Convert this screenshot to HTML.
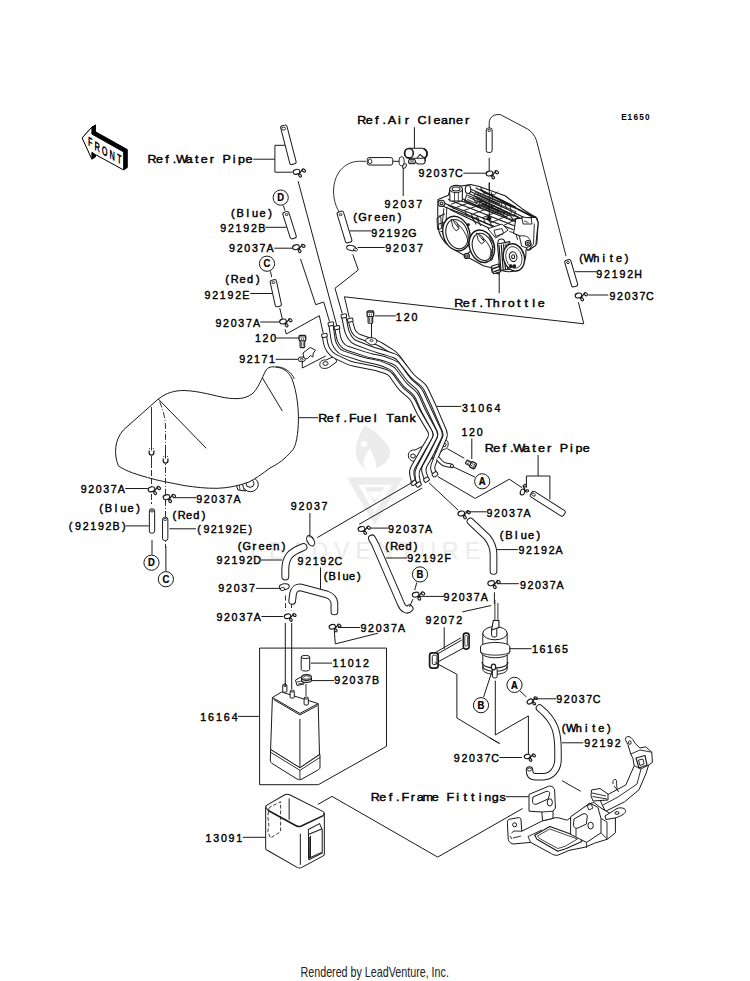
<!DOCTYPE html>
<html><head><meta charset="utf-8"><style>
html,body{margin:0;padding:0;background:#fff;overflow:hidden;}
svg{display:block;}
</style></head><body>
<svg width="750" height="981" viewBox="0 0 750 981">
<rect width="750" height="981" fill="#fff"/>
<g transform="translate(330,420) scale(0.12)" fill="#ececec" stroke="none">
<path d="M290,40 C250,120 215,180 215,255 C215,330 250,385 300,408 C265,360 280,300 335,235 C350,300 395,330 380,405 C455,375 505,325 500,262 C495,205 440,160 395,115 C350,75 300,60 290,40 Z"/>
<ellipse cx="282" cy="200" rx="28" ry="22" fill="#fff"/>
<path d="M140,480 L610,480 L372,872 Z"/>
<path d="M235,540 L515,540 L372,775 Z" fill="#fff"/>
<path d="M290,560 L455,560 L372,700 Z"/>
<path d="M310,595 L435,595 L372,665 Z" fill="#fff"/>
</g>
<text x="250" y="558.6" font-family="Liberation Sans" font-size="23" fill="#ececec" textLength="230" lengthAdjust="spacing">LEADVENTURE</text>
<polygon points="82.1,137.9 91.9,127.1 91.9,134.1 123.7,151.9 123.7,170 94.7,154.2 91.9,152.3 91.9,159.3" fill="#000" stroke="#000" stroke-width="0.8" transform="translate(0.45,-0.30)"/>
<polygon points="82.1,137.9 91.9,127.1 91.9,134.1 123.7,151.9 123.7,170 94.7,154.2 91.9,152.3 91.9,159.3" fill="#000" stroke="#000" stroke-width="0.8" transform="translate(0.90,-0.60)"/>
<polygon points="82.1,137.9 91.9,127.1 91.9,134.1 123.7,151.9 123.7,170 94.7,154.2 91.9,152.3 91.9,159.3" fill="#000" stroke="#000" stroke-width="0.8" transform="translate(1.35,-0.90)"/>
<polygon points="82.1,137.9 91.9,127.1 91.9,134.1 123.7,151.9 123.7,170 94.7,154.2 91.9,152.3 91.9,159.3" fill="#000" stroke="#000" stroke-width="0.8" transform="translate(1.80,-1.20)"/>
<polygon points="82.1,137.9 91.9,127.1 91.9,134.1 123.7,151.9 123.7,170 94.7,154.2 91.9,152.3 91.9,159.3" fill="#000" stroke="#000" stroke-width="0.8" transform="translate(2.25,-1.50)"/>
<polygon points="82.1,137.9 91.9,127.1 91.9,134.1 123.7,151.9 123.7,170 94.7,154.2 91.9,152.3 91.9,159.3" fill="#000" stroke="#000" stroke-width="0.8" transform="translate(2.70,-1.80)"/>
<polygon points="82.1,137.9 91.9,127.1 91.9,134.1 123.7,151.9 123.7,170 94.7,154.2 91.9,152.3 91.9,159.3" fill="#000" stroke="#000" stroke-width="0.8" transform="translate(3.15,-2.10)"/>
<polygon points="82.1,137.9 91.9,127.1 91.9,134.1 123.7,151.9 123.7,170 94.7,154.2 91.9,152.3 91.9,159.3" fill="#000" stroke="#000" stroke-width="0.8" transform="translate(3.60,-2.40)"/>
<polygon points="82.1,137.9 91.9,127.1 91.9,134.1 123.7,151.9 123.7,170 94.7,154.2 91.9,152.3 91.9,159.3" fill="#fff" stroke="#000" stroke-width="1"/>
<text x="0" y="0" text-anchor="middle" font-family="Liberation Sans" font-weight="bold" font-size="13" fill="#000" transform="translate(90.3,146.6) skewY(29) scale(0.58,1)">F</text>
<text x="0" y="0" text-anchor="middle" font-family="Liberation Sans" font-weight="bold" font-size="13" fill="#000" transform="translate(97.3,151.3) skewY(29) scale(0.58,1)">R</text>
<text x="0" y="0" text-anchor="middle" font-family="Liberation Sans" font-weight="bold" font-size="13" fill="#000" transform="translate(104.7,155.5) skewY(29) scale(0.58,1)">O</text>
<text x="0" y="0" text-anchor="middle" font-family="Liberation Sans" font-weight="bold" font-size="13" fill="#000" transform="translate(112.1,159.7) skewY(29) scale(0.58,1)">N</text>
<text x="0" y="0" text-anchor="middle" font-family="Liberation Sans" font-weight="bold" font-size="13" fill="#000" transform="translate(119.4,163.5) skewY(29) scale(0.58,1)">T</text>
<g transform="translate(622.00,120.30) scale(0.860,1)"><text x="2.41 9.17 15.93 22.69 29.45" y="0" text-anchor="middle" font-family="Liberation Sans" font-weight="bold" font-size="9.60" fill="#000"  >E1650</text></g>
<g transform="translate(148.50,163.00) scale(1.100,1)"><text x="3.18 9.97 16.76 23.55 30.33 37.12 43.91 50.70 57.49 64.27 71.06 77.85 84.64 91.43" y="0" text-anchor="middle" font-family="Liberation Sans" font-weight="normal" font-size="11.40" fill="#000" stroke="#000" stroke-width="0.42" >Ref.Water Pipe</text></g>
<polyline points="253.3,159.2 274.9,159.2" fill="none" stroke="#1a1a1a" stroke-width="1.00" stroke-linejoin="miter" />
<polyline points="285.0,145.3 274.9,145.3 274.9,172.2 292.4,172.2" fill="none" stroke="#1a1a1a" stroke-width="1.00" stroke-linejoin="miter" />
<rect x="-19.99" y="-3.25" width="39.97" height="6.50" rx="2" fill="#fff" stroke="#1a1a1a" stroke-width="1" transform="translate(288.40,144.80) rotate(75.47)"/>
<ellipse cx="283.6" cy="128.6" rx="2" ry="1.4" fill="#fff" stroke="#1a1a1a" stroke-width="0.9"/>
<g transform="translate(296.5,171.8) rotate(0.0) scale(1.00,1.00)" fill="#fff" stroke="#1a1a1a" stroke-width="1.15">
<ellipse cx="0" cy="0" rx="3.4" ry="2.4" transform="rotate(-12)"/>
<ellipse cx="7.3" cy="-1.3" rx="1.9" ry="1.3" transform="rotate(35 7.3 -1.3)"/>
<ellipse cx="3.6" cy="3.8" rx="1.7" ry="1.2" transform="rotate(50 3.6 3.8)"/>
<path d="M2.2,2.6 L6.4,-2.6" fill="none"/>
</g>
<polyline points="298.1,181.2 336.9,326.0" fill="none" stroke="#1a1a1a" stroke-width="1.00" stroke-linejoin="miter" />
<circle cx="280.7" cy="197.6" r="7.6" fill="#fff" stroke="#1a1a1a" stroke-width="1"/>
<text x="280.7" y="201.4" text-anchor="middle" font-family="Liberation Sans" font-weight="bold" font-size="10.5" fill="#000" stroke="#000" stroke-width="0.25" transform="translate(280.7,0) scale(0.9,1) translate(-280.7,0)">D</text>
<polyline points="283.4,205.6 285.0,210.7" fill="none" stroke="#1a1a1a" stroke-width="1.00" stroke-linejoin="miter" />
<g transform="translate(231.60,217.00) scale(1.100,1)"><text x="1.04 7.83 14.61 21.39 28.17 34.96" y="0" text-anchor="middle" font-family="Liberation Sans" font-weight="normal" font-size="10.00" fill="#000" stroke="#000" stroke-width="0.42" >(Blue)</text></g>
<g transform="translate(220.70,231.60) scale(0.920,1)"><text x="2.68 11.06 19.44 27.81 36.19 44.57" y="0" text-anchor="middle" font-family="Liberation Sans" font-weight="normal" font-size="11.60" fill="#000" stroke="#000" stroke-width="0.42" >92192B</text></g>
<polyline points="265.2,227.3 286.6,227.3" fill="none" stroke="#1a1a1a" stroke-width="1.00" stroke-linejoin="miter" />
<rect x="-13.86" y="-3.15" width="27.71" height="6.30" rx="2" fill="#fff" stroke="#1a1a1a" stroke-width="1" transform="translate(289.55,225.20) rotate(72.33)"/>
<ellipse cx="286.6" cy="214.6" rx="1.4" ry="1.0" fill="#fff" stroke="#1a1a1a" stroke-width="0.9"/>
<g transform="translate(229.60,252.40) scale(0.920,1)"><text x="2.68 10.94 19.20 27.46 35.72 43.98" y="0" text-anchor="middle" font-family="Liberation Sans" font-weight="normal" font-size="11.60" fill="#000" stroke="#000" stroke-width="0.42" >92037A</text></g>
<polyline points="274.3,248.2 293.0,248.2" fill="none" stroke="#1a1a1a" stroke-width="1.00" stroke-linejoin="miter" />
<g transform="translate(296.0,247.2) rotate(0.0) scale(1.00,1.00)" fill="#fff" stroke="#1a1a1a" stroke-width="1.15">
<ellipse cx="0" cy="0" rx="3.4" ry="2.4" transform="rotate(-12)"/>
<ellipse cx="7.3" cy="-1.3" rx="1.9" ry="1.3" transform="rotate(35 7.3 -1.3)"/>
<ellipse cx="3.6" cy="3.8" rx="1.7" ry="1.2" transform="rotate(50 3.6 3.8)"/>
<path d="M2.2,2.6 L6.4,-2.6" fill="none"/>
</g>
<polyline points="300.5,258.9 315.7,304.7 323.7,302.0 329.5,321.5" fill="none" stroke="#1a1a1a" stroke-width="1.00" stroke-linejoin="miter" />
<circle cx="267.0" cy="263.7" r="7.6" fill="#fff" stroke="#1a1a1a" stroke-width="1"/>
<text x="267.0" y="267.5" text-anchor="middle" font-family="Liberation Sans" font-weight="bold" font-size="10.5" fill="#000" stroke="#000" stroke-width="0.25" transform="translate(267.0,0) scale(0.9,1) translate(-267.0,0)">C</text>
<polyline points="270.5,271.4 271.6,277.0" fill="none" stroke="#1a1a1a" stroke-width="1.00" stroke-linejoin="miter" />
<g transform="translate(226.00,282.50) scale(1.100,1)"><text x="1.04 8.02 15.00 21.98 28.96" y="0" text-anchor="middle" font-family="Liberation Sans" font-weight="normal" font-size="10.00" fill="#000" stroke="#000" stroke-width="0.42" >(Red)</text></g>
<g transform="translate(205.00,298.50) scale(0.920,1)"><text x="2.68 11.04 19.39 27.75 36.10 44.46" y="0" text-anchor="middle" font-family="Liberation Sans" font-weight="normal" font-size="11.60" fill="#000" stroke="#000" stroke-width="0.42" >92192E</text></g>
<polyline points="250.3,293.5 272.3,293.5" fill="none" stroke="#1a1a1a" stroke-width="1.00" stroke-linejoin="miter" />
<rect x="-13.58" y="-3.15" width="27.17" height="6.30" rx="2" fill="#fff" stroke="#1a1a1a" stroke-width="1" transform="translate(275.80,293.20) rotate(77.83)"/>
<ellipse cx="273.4" cy="282.6" rx="1.4" ry="1.0" fill="#fff" stroke="#1a1a1a" stroke-width="0.9"/>
<polyline points="279.7,308.0 282.3,318.7" fill="none" stroke="#1a1a1a" stroke-width="1.00" stroke-linejoin="miter" />
<g transform="translate(216.00,326.50) scale(0.920,1)"><text x="2.68 10.94 19.20 27.46 35.72 43.98" y="0" text-anchor="middle" font-family="Liberation Sans" font-weight="normal" font-size="11.60" fill="#000" stroke="#000" stroke-width="0.42" >92037A</text></g>
<polyline points="260.3,322.0 279.0,322.0" fill="none" stroke="#1a1a1a" stroke-width="1.00" stroke-linejoin="miter" />
<g transform="translate(283.0,321.5) rotate(0.0) scale(1.00,1.00)" fill="#fff" stroke="#1a1a1a" stroke-width="1.15">
<ellipse cx="0" cy="0" rx="3.4" ry="2.4" transform="rotate(-12)"/>
<ellipse cx="7.3" cy="-1.3" rx="1.9" ry="1.3" transform="rotate(35 7.3 -1.3)"/>
<ellipse cx="3.6" cy="3.8" rx="1.7" ry="1.2" transform="rotate(50 3.6 3.8)"/>
<path d="M2.2,2.6 L6.4,-2.6" fill="none"/>
</g>
<polyline points="285.0,329.3 286.3,334.0 319.3,315.7 323.2,333.0" fill="none" stroke="#1a1a1a" stroke-width="1.00" stroke-linejoin="miter" />
<g transform="translate(255.70,342.40) scale(0.920,1)"><text x="2.34 10.65 18.97" y="0" text-anchor="middle" font-family="Liberation Sans" font-weight="normal" font-size="11.60" fill="#000" stroke="#000" stroke-width="0.42" >120</text></g>
<polyline points="276.3,338.0 299.0,338.0" fill="none" stroke="#1a1a1a" stroke-width="1.00" stroke-linejoin="miter" />
<g transform="translate(239.70,363.30) scale(0.920,1)"><text x="2.68 10.75 18.82 26.88 34.95" y="0" text-anchor="middle" font-family="Liberation Sans" font-weight="normal" font-size="11.60" fill="#000" stroke="#000" stroke-width="0.42" >92171</text></g>
<polyline points="275.7,359.3 298.3,359.3" fill="none" stroke="#1a1a1a" stroke-width="1.00" stroke-linejoin="miter" />
<g transform="translate(302.4,335.3) rotate(0.0)" stroke="#1a1a1a" stroke-width="1.1" fill="#fff">
<rect x="-2.30" y="5.20" width="4.60" height="7.10" rx="0.8"/>
<path d="M-0.9,7 V11.3 M0.9,7 V11.3" fill="none" stroke-width="0.7"/>
<rect x="-3.30" y="0" width="6.60" height="5.6" rx="1.2" stroke-width="1.3"/>
<path d="M-2.80,1.6 H2.80 M-1,2.8 V4.6 M1,2.8 V4.6" fill="none" stroke-width="0.8"/>
</g>
<path d="M303,353 L310.3,347.4 L315.5,350.3 L313.3,353 L312.8,357 L310.5,355.5 L307.5,358.5 L304,359 Z" fill="#fff" stroke="#1a1a1a" stroke-width="1.00" stroke-linejoin="round" />
<ellipse cx="301.7" cy="359.3" rx="3.6" ry="2.4" fill="#fff" stroke="#1a1a1a" stroke-width="1"/>
<ellipse cx="301.7" cy="359.3" rx="1.4" ry="0.9" fill="#fff" stroke="#1a1a1a" stroke-width="0.8"/>
<polyline points="302.3,361.5 302.3,368.0 325.7,356.0" fill="none" stroke="#1a1a1a" stroke-width="1.00" stroke-linejoin="miter" />
<g transform="translate(358.30,124.00) scale(1.100,1)"><text x="3.18 10.02 16.86 23.70 30.54 37.38 44.22 51.05 57.89 64.73 71.57 78.41 85.25 92.09 98.93" y="0" text-anchor="middle" font-family="Liberation Sans" font-weight="normal" font-size="11.40" fill="#000" stroke="#000" stroke-width="0.42" >Ref.Air Cleaner</text></g>
<polyline points="414.4,127.2 414.4,148.8" fill="none" stroke="#1a1a1a" stroke-width="1.00" stroke-linejoin="miter" />
<g stroke="#1a1a1a" stroke-width="1.1" fill="#fff">
<path d="M409.5,158.5 L418,164 L423,164 C425.5,163.5 425.5,160 425,158" fill="#fff"/>
<rect x="404.3" y="148.3" width="23" height="10" rx="5"/>
<path d="M423.5,148.8 C427.5,150 428.5,156 424.5,158" fill="none" stroke-width="1.6"/>
<ellipse cx="409" cy="153.2" rx="4.3" ry="4.7" stroke-width="1.6"/>
<path d="M417,158 L420,154.5 L425,158.5 L425,161" fill="none"/>
<rect x="408.6" y="159.3" width="6.8" height="4.4" rx="2"/>
<path d="M411,159.5 V163.5 M413,159.5 V163.5" fill="none" stroke-width="0.9"/>
</g>
<g transform="translate(419.00,177.30) scale(0.920,1)"><text x="2.68 10.81 18.94 27.06 35.19 43.32" y="0" text-anchor="middle" font-family="Liberation Sans" font-weight="normal" font-size="11.60" fill="#000" stroke="#000" stroke-width="0.42" >92037C</text></g>
<polyline points="463.3,173.2 486.0,173.2" fill="none" stroke="#1a1a1a" stroke-width="1.00" stroke-linejoin="miter" />
<g transform="translate(385.00,208.30) scale(0.920,1)"><text x="2.68 11.32 19.97 28.61 37.25" y="0" text-anchor="middle" font-family="Liberation Sans" font-weight="normal" font-size="11.60" fill="#000" stroke="#000" stroke-width="0.42" >92037</text></g>
<polyline points="403.2,168.0 403.2,196.0" fill="none" stroke="#1a1a1a" stroke-width="1.00" stroke-linejoin="miter" />
<ellipse cx="401.6" cy="161.3" rx="2.6" ry="4.6" fill="#fff" stroke="#1a1a1a" stroke-width="1"/>
<ellipse cx="404.5" cy="166" rx="1.6" ry="2.4" fill="#fff" stroke="#1a1a1a" stroke-width="0.9" transform="rotate(30 404.5 166)"/>
<polyline points="392.8,161.3 399.2,161.3" fill="none" stroke="#1a1a1a" stroke-width="1.00" stroke-linejoin="miter" />
<rect x="-12.75" y="-3.75" width="25.50" height="7.50" rx="2" fill="#fff" stroke="#1a1a1a" stroke-width="1" transform="translate(380.00,161.30) rotate(0.00)"/>
<ellipse cx="370" cy="161.3" rx="1.8" ry="2.4" fill="#fff" stroke="#1a1a1a" stroke-width="0.9"/>
<path d="M366,161.3 L358.4,161.3 C344,162 334,174 333.6,190 C333.4,198 335,205 339.2,212" fill="none" stroke="#1a1a1a" stroke-width="0.90" stroke-linejoin="round" />
<g transform="translate(354.00,221.30) scale(1.100,1)"><text x="1.04 7.77 14.50 21.23 27.95 34.68 41.41" y="0" text-anchor="middle" font-family="Liberation Sans" font-weight="normal" font-size="10.00" fill="#000" stroke="#000" stroke-width="0.42" >(Green)</text></g>
<g transform="translate(371.70,236.70) scale(0.920,1)"><text x="2.68 10.98 19.28 27.58 35.88 44.18" y="0" text-anchor="middle" font-family="Liberation Sans" font-weight="normal" font-size="11.60" fill="#000" stroke="#000" stroke-width="0.42" >92192G</text></g>
<polyline points="349.6,230.9 371.2,230.9" fill="none" stroke="#1a1a1a" stroke-width="1.00" stroke-linejoin="miter" />
<rect x="-16.10" y="-3.35" width="32.20" height="6.70" rx="2" fill="#fff" stroke="#1a1a1a" stroke-width="1" transform="translate(344.50,227.00) rotate(73.13)"/>
<ellipse cx="340.6" cy="214.6" rx="1.5" ry="1.0" fill="#fff" stroke="#1a1a1a" stroke-width="0.9"/>
<g transform="translate(385.70,251.70) scale(0.920,1)"><text x="2.68 11.30 19.91 28.53 37.14" y="0" text-anchor="middle" font-family="Liberation Sans" font-weight="normal" font-size="11.60" fill="#000" stroke="#000" stroke-width="0.42" >92037</text></g>
<polyline points="357.6,247.5 384.8,247.5" fill="none" stroke="#1a1a1a" stroke-width="1.00" stroke-linejoin="miter" />
<ellipse cx="351.2" cy="248" rx="4.6" ry="2.6" fill="#fff" stroke="#1a1a1a" stroke-width="1" transform="rotate(10 351.2 248)"/>
<ellipse cx="355.5" cy="249.5" rx="2" ry="1.4" fill="#fff" stroke="#1a1a1a" stroke-width="0.9" transform="rotate(20 355.5 249.5)"/>
<polyline points="352.8,254.4 358.3,270.0 335.0,288.3 342.2,313.5" fill="none" stroke="#1a1a1a" stroke-width="1.00" stroke-linejoin="miter" />
<path d="M489.2,128 L489.2,122.6 C489.5,117 494,114 500.4,114.6 L527.6,129 C531,131 534.5,135 536.4,140.2 L566,256" fill="none" stroke="#1a1a1a" stroke-width="0.95" stroke-linejoin="round" />
<rect x="-12.20" y="-2.95" width="24.40" height="5.90" rx="2" fill="#fff" stroke="#1a1a1a" stroke-width="1" transform="translate(489.20,140.25) rotate(90.00)"/>
<ellipse cx="489.2" cy="130.5" rx="1.4" ry="1.0" fill="#fff" stroke="#1a1a1a" stroke-width="0.9"/>
<polyline points="489.2,157.8 489.2,170.6" fill="none" stroke="#1a1a1a" stroke-width="1.00" stroke-linejoin="miter" />
<g transform="translate(489.5,173.5) rotate(0.0) scale(1.00,1.00)" fill="#fff" stroke="#1a1a1a" stroke-width="1.15">
<ellipse cx="0" cy="0" rx="3.4" ry="2.4" transform="rotate(-12)"/>
<ellipse cx="7.3" cy="-1.3" rx="1.9" ry="1.3" transform="rotate(35 7.3 -1.3)"/>
<ellipse cx="3.6" cy="3.8" rx="1.7" ry="1.2" transform="rotate(50 3.6 3.8)"/>
<path d="M2.2,2.6 L6.4,-2.6" fill="none"/>
</g>
<polyline points="489.2,182.6 489.2,221.0" fill="none" stroke="#1a1a1a" stroke-width="1.00" stroke-linejoin="miter" />
<g transform="translate(580.00,261.70) scale(1.100,1)"><text x="1.04 7.92 14.80 21.68 28.56 35.44 42.32" y="0" text-anchor="middle" font-family="Liberation Sans" font-weight="normal" font-size="10.00" fill="#000" stroke="#000" stroke-width="0.42" >(White)</text></g>
<g transform="translate(596.70,277.70) scale(0.920,1)"><text x="2.68 11.13 19.57 28.02 36.46 44.91" y="0" text-anchor="middle" font-family="Liberation Sans" font-weight="normal" font-size="11.60" fill="#000" stroke="#000" stroke-width="0.42" >92192H</text></g>
<polyline points="575.0,271.7 596.7,271.7" fill="none" stroke="#1a1a1a" stroke-width="1.00" stroke-linejoin="miter" />
<rect x="-13.83" y="-3.15" width="27.66" height="6.30" rx="2" fill="#fff" stroke="#1a1a1a" stroke-width="1" transform="translate(571.20,273.25) rotate(73.69)"/>
<ellipse cx="568" cy="262.6" rx="1.4" ry="1.0" fill="#fff" stroke="#1a1a1a" stroke-width="0.9"/>
<g transform="translate(610.00,300.00) scale(0.920,1)"><text x="2.68 10.81 18.94 27.06 35.19 43.32" y="0" text-anchor="middle" font-family="Liberation Sans" font-weight="normal" font-size="11.60" fill="#000" stroke="#000" stroke-width="0.42" >92037C</text></g>
<polyline points="588.3,295.0 608.3,295.0" fill="none" stroke="#1a1a1a" stroke-width="1.00" stroke-linejoin="miter" />
<g transform="translate(578.5,295.5) rotate(0.0) scale(1.00,1.00)" fill="#fff" stroke="#1a1a1a" stroke-width="1.15">
<ellipse cx="0" cy="0" rx="3.4" ry="2.4" transform="rotate(-12)"/>
<ellipse cx="7.3" cy="-1.3" rx="1.9" ry="1.3" transform="rotate(35 7.3 -1.3)"/>
<ellipse cx="3.6" cy="3.8" rx="1.7" ry="1.2" transform="rotate(50 3.6 3.8)"/>
<path d="M2.2,2.6 L6.4,-2.6" fill="none"/>
</g>
<polyline points="578.4,302.2 583.8,323.8 344.4,296.8 349.3,317.5" fill="none" stroke="#1a1a1a" stroke-width="1.00" stroke-linejoin="miter" />
<g transform="translate(455.30,306.50) scale(1.100,1)"><text x="3.18 10.00 16.81 23.63 30.44 37.26 44.08 50.89 57.71 64.52 71.34 78.15" y="0" text-anchor="middle" font-family="Liberation Sans" font-weight="normal" font-size="11.40" fill="#000" stroke="#000" stroke-width="0.42" >Ref.Throttle</text></g>
<polyline points="499.2,271.6 499.2,293.2" fill="none" stroke="#1a1a1a" stroke-width="1.00" stroke-linejoin="miter" />
<g transform="translate(396.60,320.90) scale(0.920,1)"><text x="2.34 10.93 19.51" y="0" text-anchor="middle" font-family="Liberation Sans" font-weight="normal" font-size="11.60" fill="#000" stroke="#000" stroke-width="0.42" >120</text></g>
<polyline points="375.0,315.9 395.9,315.9" fill="none" stroke="#1a1a1a" stroke-width="1.00" stroke-linejoin="miter" />
<g transform="translate(370.4,311.0) rotate(0.0)" stroke="#1a1a1a" stroke-width="1.1" fill="#fff">
<rect x="-2.30" y="5.20" width="4.60" height="7.10" rx="0.8"/>
<path d="M-0.9,7 V11.3 M0.9,7 V11.3" fill="none" stroke-width="0.7"/>
<rect x="-3.30" y="0" width="6.60" height="5.6" rx="1.2" stroke-width="1.3"/>
<path d="M-2.80,1.6 H2.80 M-1,2.8 V4.6 M1,2.8 V4.6" fill="none" stroke-width="0.8"/>
</g>
<polyline points="371.5,323.0 371.5,338.0" fill="none" stroke="#1a1a1a" stroke-width="1.00" stroke-linejoin="miter" />
<g transform="translate(430,178) scale(0.15337)" stroke="#1a1a1a" stroke-width="7" fill="#fff" stroke-linejoin="round" stroke-linecap="round">
<path d="M52,140 L120,112 L135,60 L210,50 L232,48 L265,42 L320,55 L490,116 L600,200 L697,262 L705,290 L697,426 L650,470 L625,470 C630,520 610,590 560,605 C520,615 480,610 460,600 L450,625 L405,615 L400,585 L348,572 L226,505 L171,475 L104,426 C80,400 60,370 55,330 L50,230 Z"/>
<path d="M55,150 L540,335 M60,175 L430,320 M120,140 L545,310 M205,150 L600,300" fill="none"/>
<path d="M270,75 L690,255 M300,65 L700,270" fill="none"/>
<path d="M240,110 L560,245 L540,280 L225,150 Z" fill="#fff"/>
<path d="M250,125 L545,255 M245,140 L535,268" fill="none" stroke-width="6"/>
<path d="M300,95 L470,165 L460,185 L290,115 Z M330,160 L450,210 L440,230 L320,180 Z" fill="#fff" stroke-width="6"/>
<path d="M340,170 L440,215 M310,108 L455,170" fill="none" stroke-width="9"/>
<path d="M470,180 L560,220 L545,250 L460,210 Z M490,220 L580,255 L565,285 L480,250 Z" fill="#fff" stroke-width="6"/>
<path d="M230,220 L240,250 M270,235 L280,265 M310,250 L320,280 M350,265 L360,295 M390,280 L400,310" fill="none" stroke-width="6"/>
<path d="M380,240 L400,260 L390,280 L370,265 Z" fill="#1a1a1a" stroke-width="4"/>
<path d="M140,170 L200,150 M150,200 L260,160 M210,215 L330,175 M280,235 L400,190 M340,260 L450,215 M400,290 L520,240 M460,320 L560,270" fill="none" stroke-width="6"/>
<path d="M330,60 L350,100 L420,110 L440,90 M400,95 L410,140 M480,150 L500,200 M520,170 L530,225" fill="none" stroke-width="6"/>
<path d="M90,200 L80,300 L100,420 M110,190 L105,280" fill="none" stroke-width="6"/>
<path d="M560,330 L600,345 L590,380 M520,350 L560,360 L570,400" fill="none" stroke-width="6"/>
<path d="M120,180 L470,345 M130,205 L455,360 M250,100 L640,290 M265,88 L650,275 M330,75 L560,190 M360,95 L600,215 M200,130 L330,190" fill="none" stroke-width="7"/>
<path d="M280,130 L300,160 L340,150 M360,160 L380,190 L420,180 M440,200 L460,230 L500,220 M520,240 L540,270 L580,260" fill="none" stroke-width="7"/>
<path d="M600,330 L650,350 L640,400" fill="none" stroke-width="7"/>
<path d="M60,250 L95,235 M60,300 L90,290 M70,350 L88,345 M270,250 L300,300 M300,255 L330,310 M240,500 L270,470 M410,330 L430,380 M440,320 L470,370" fill="none" stroke-width="7"/>
<path d="M300,130 L520,230 M310,150 L515,245 M330,175 L500,255" fill="none" stroke-width="8"/>
<path d="M128,75 L130,150 L210,150 L212,75 Z"/>
<ellipse cx="170" cy="72" rx="42" ry="24"/>
<ellipse cx="170" cy="72" rx="26" ry="13"/>
<path d="M160,95 L160,150 M185,95 L185,150" fill="none" stroke-width="5"/>
<ellipse cx="248" cy="75" rx="18" ry="26"/>
<ellipse cx="75" cy="165" rx="22" ry="20"/>
<ellipse cx="75" cy="165" rx="10" ry="9"/>
<path d="M48,260 L70,250 L75,330 L52,335 Z" fill="none" stroke-width="6"/>
<ellipse cx="172" cy="362" rx="86" ry="115" transform="rotate(-18 172 362)" stroke-width="9"/>
<ellipse cx="176" cy="366" rx="70" ry="98" transform="rotate(-18 176 366)"/>
<path d="M140,270 L175,290 L190,330 L170,345 L150,320 Z" fill="#fff" stroke-width="6"/>
<path d="M155,285 L185,325 M180,300 C230,340 250,400 255,450" fill="none" stroke-width="6"/>
<ellipse cx="338" cy="445" rx="80" ry="108" transform="rotate(-18 338 445)" stroke-width="9"/>
<ellipse cx="342" cy="449" rx="64" ry="91" transform="rotate(-18 342 449)"/>
<path d="M305,360 L340,380 L355,415 L335,430 L315,405 Z" fill="#fff" stroke-width="6"/>
<path d="M320,375 L350,410 M345,390 C390,430 405,480 408,530" fill="none" stroke-width="6"/>
<circle cx="240" cy="508" r="17"/>
<circle cx="240" cy="508" r="8"/>
<circle cx="250" cy="305" r="6" fill="#1a1a1a"/>
<path d="M380,330 L470,300 L510,340 L430,390 Z" fill="#fff" stroke-width="6"/>
<path d="M420,340 L470,330 L480,360 L430,380 Z" fill="#fff" stroke-width="6"/>
<path d="M385,380 L420,440 L400,470 L390,520 L400,540" fill="none" stroke-width="6"/>
<circle cx="465" cy="420" r="22"/>
<path d="M560,265 L690,255 L705,290 L690,440 L640,470 L600,430 L590,380 L545,360 Z" fill="#fff"/>
<path d="M600,255 L660,260 L665,300 L610,300 Z" fill="#fff" stroke-width="6"/>
<path d="M615,280 L640,290" fill="none" stroke-width="5"/>
<path d="M680,300 L675,430 L650,460" fill="none" stroke-width="6"/>
<path d="M585,380 C610,370 640,380 650,400 L660,440 L630,455 L600,445 Z" fill="#fff" stroke-width="6"/>
<circle cx="640" cy="425" r="18"/>
<circle cx="640" cy="425" r="8"/>
<path d="M440,430 L520,415 L535,590 L455,605 Z" fill="#fff"/>
<path d="M450,440 L462,600 M465,437 L477,598 M480,434 L492,596 M495,431 L507,594 M510,428 L522,592" fill="none" stroke-width="8"/>
<ellipse cx="547" cy="518" rx="68" ry="90" transform="rotate(-15 547 518)" stroke-width="9"/>
<ellipse cx="547" cy="518" rx="52" ry="72" transform="rotate(-15 547 518)" stroke-width="5"/>
<ellipse cx="542" cy="513" rx="24" ry="32" transform="rotate(-15 542 513)"/>
<ellipse cx="542" cy="513" rx="10" ry="13"/>
<circle cx="527" cy="575" r="9" fill="#1a1a1a"/><circle cx="550" cy="575" r="9" fill="#1a1a1a"/>
<path d="M400,575 L445,560 L462,610 L415,625 Z"/>
<path d="M412,590 L450,578 M420,610 L455,598" fill="none" stroke-width="9"/>
</g>
<polyline points="489.3,182.6 489.3,222.0" fill="none" stroke="#1a1a1a" stroke-width="1.00" stroke-linejoin="miter" />
<path d="M320,366 C319,362 322,359.5 326,360 L334,356.5 L337,361.5 L331,366 C328,369 321,369.5 320,366 Z" fill="#fff" stroke="#1a1a1a" stroke-width="1"/>
<ellipse cx="325.5" cy="363.5" rx="2.6" ry="1.9" fill="#fff" stroke="#1a1a1a" stroke-width="1"/>
<path d="M408.5,457 C407.5,452 411,449.5 415,450 L421,447 L440,441.5 C441.5,438.5 447,438.5 448,442.5 C449,447 446,449.5 443,449.5 L441,452 C437,456 430,460 421,461.5 C415,462.5 409.5,461 408.5,457 Z" fill="#fff" stroke="#1a1a1a" stroke-width="1"/>
<ellipse cx="413" cy="456" rx="2.4" ry="2" fill="#fff" stroke="#1a1a1a" stroke-width="1"/>
<ellipse cx="444" cy="444.8" rx="2.2" ry="1.8" fill="#fff" stroke="#1a1a1a" stroke-width="1"/>
<path d="M421,461.5 C428,461 436,458 441,452 M436,450 L436,462" fill="none" stroke="#1a1a1a" stroke-width="0.9"/>
<path d="M350.20,320.50 L352.66,329.10 Q353.40,331.70 355.33,333.59 L355.76,334.01 Q357.70,335.90 360.25,336.80 L375.23,342.07 Q379.00,343.40 382.40,345.51 L392.20,351.59 Q395.60,353.70 397.92,356.96 L412.70,377.70" fill="none" stroke="#1a1a1a" stroke-width="5.20" stroke-linecap="butt" stroke-linejoin="round"/>
<path d="M350.20,320.50 L352.66,329.10 Q353.40,331.70 355.33,333.59 L355.76,334.01 Q357.70,335.90 360.25,336.80 L375.23,342.07 Q379.00,343.40 382.40,345.51 L392.20,351.59 Q395.60,353.70 397.92,356.96 L412.70,377.70" fill="none" stroke="#fff" stroke-width="3.20" stroke-linecap="butt" stroke-linejoin="round"/>
<path d="M343.80,316.50 L346.22,328.78 Q347.00,332.70 349.10,336.11 L350.20,337.89 Q352.30,341.30 356.04,342.72 L370.96,348.38 Q374.70,349.80 378.55,350.87 L384.15,352.43 Q388.00,353.50 391.75,354.88 L393.75,355.62 Q397.50,357.00 399.94,360.17 L410.06,373.33 Q412.50,376.50 415.64,378.98 L421.36,383.52 Q424.50,386.00 426.21,389.62 L431.29,400.38 Q433.00,404.00 434.57,407.68 L444.43,430.82 Q446.00,434.50 444.39,438.16 L438.61,451.34 Q437.00,455.00 435.56,458.73 L433.13,465.07 Q432.00,468.00 433.35,470.83 L435.00,474.30" fill="none" stroke="#1a1a1a" stroke-width="5.20" stroke-linecap="butt" stroke-linejoin="round"/>
<path d="M343.80,316.50 L346.22,328.78 Q347.00,332.70 349.10,336.11 L350.20,337.89 Q352.30,341.30 356.04,342.72 L370.96,348.38 Q374.70,349.80 378.55,350.87 L384.15,352.43 Q388.00,353.50 391.75,354.88 L393.75,355.62 Q397.50,357.00 399.94,360.17 L410.06,373.33 Q412.50,376.50 415.64,378.98 L421.36,383.52 Q424.50,386.00 426.21,389.62 L431.29,400.38 Q433.00,404.00 434.57,407.68 L444.43,430.82 Q446.00,434.50 444.39,438.16 L438.61,451.34 Q437.00,455.00 435.56,458.73 L433.13,465.07 Q432.00,468.00 433.35,470.83 L435.00,474.30" fill="none" stroke="#fff" stroke-width="3.20" stroke-linecap="butt" stroke-linejoin="round"/>
<path d="M336.90,328.00 L338.36,336.47 Q339.00,340.20 341.16,343.31 L341.64,344.00 Q343.80,347.10 347.40,348.27 L364.50,353.86 Q368.30,355.10 372.21,355.95 L380.09,357.65 Q384.00,358.50 387.73,359.94 L393.27,362.06 Q397.00,363.50 399.35,366.73 L406.65,376.77 Q409.00,380.00 412.03,382.61 L416.97,386.89 Q420.00,389.50 421.66,393.14 L426.34,403.36 Q428.00,407.00 429.71,410.62 L439.29,430.88 Q441.00,434.50 439.24,438.09 L432.26,452.41 Q430.50,456.00 428.50,459.46 L425.00,465.54 Q423.00,469.00 424.26,472.79 L426.50,479.50" fill="none" stroke="#1a1a1a" stroke-width="5.20" stroke-linecap="butt" stroke-linejoin="round"/>
<path d="M336.90,328.00 L338.36,336.47 Q339.00,340.20 341.16,343.31 L341.64,344.00 Q343.80,347.10 347.40,348.27 L364.50,353.86 Q368.30,355.10 372.21,355.95 L380.09,357.65 Q384.00,358.50 387.73,359.94 L393.27,362.06 Q397.00,363.50 399.35,366.73 L406.65,376.77 Q409.00,380.00 412.03,382.61 L416.97,386.89 Q420.00,389.50 421.66,393.14 L426.34,403.36 Q428.00,407.00 429.71,410.62 L439.29,430.88 Q441.00,434.50 439.24,438.09 L432.26,452.41 Q430.50,456.00 428.50,459.46 L425.00,465.54 Q423.00,469.00 424.26,472.79 L426.50,479.50" fill="none" stroke="#fff" stroke-width="3.20" stroke-linecap="butt" stroke-linejoin="round"/>
<path d="M330.80,324.00 L333.11,339.44 Q333.70,343.40 335.95,346.70 L337.25,348.60 Q339.50,351.90 343.31,353.12 L359.19,358.18 Q363.00,359.40 366.91,360.23 L376.09,362.17 Q380.00,363.00 383.68,364.56 L389.32,366.94 Q393.00,368.50 395.35,371.73 L402.65,381.77 Q405.00,385.00 408.10,387.53 L412.90,391.47 Q416.00,394.00 417.60,397.66 L421.40,406.34 Q423.00,410.00 424.91,413.52 L434.39,430.98 Q436.30,434.50 434.44,438.04 L427.36,451.46 Q425.50,455.00 423.63,458.54 L418.37,468.46 Q416.50,472.00 417.16,475.95 L418.50,484.00" fill="none" stroke="#1a1a1a" stroke-width="5.20" stroke-linecap="butt" stroke-linejoin="round"/>
<path d="M330.80,324.00 L333.11,339.44 Q333.70,343.40 335.95,346.70 L337.25,348.60 Q339.50,351.90 343.31,353.12 L359.19,358.18 Q363.00,359.40 366.91,360.23 L376.09,362.17 Q380.00,363.00 383.68,364.56 L389.32,366.94 Q393.00,368.50 395.35,371.73 L402.65,381.77 Q405.00,385.00 408.10,387.53 L412.90,391.47 Q416.00,394.00 417.60,397.66 L421.40,406.34 Q423.00,410.00 424.91,413.52 L434.39,430.98 Q436.30,434.50 434.44,438.04 L427.36,451.46 Q425.50,455.00 423.63,458.54 L418.37,468.46 Q416.50,472.00 417.16,475.95 L418.50,484.00" fill="none" stroke="#fff" stroke-width="3.20" stroke-linecap="butt" stroke-linejoin="round"/>
<path d="M324.40,336.00 L325.53,342.66 Q326.20,346.60 328.43,349.92 L329.27,351.18 Q331.50,354.50 335.10,356.23 L346.60,361.77 Q350.20,363.50 354.13,364.26 L372.07,367.74 Q376.00,368.50 379.81,369.71 L385.69,371.59 Q389.50,372.80 391.82,376.06 L398.68,385.74 Q401.00,389.00 404.10,391.53 L408.90,395.47 Q412.00,398.00 413.68,401.63 L416.82,408.37 Q418.50,412.00 420.54,415.44 L429.76,431.06 Q431.80,434.50 429.80,437.97 L422.00,451.53 Q420.00,455.00 418.04,458.49 L412.96,467.51 Q411.00,471.00 411.89,474.90 L413.50,482.00" fill="none" stroke="#1a1a1a" stroke-width="5.20" stroke-linecap="butt" stroke-linejoin="round"/>
<path d="M324.40,336.00 L325.53,342.66 Q326.20,346.60 328.43,349.92 L329.27,351.18 Q331.50,354.50 335.10,356.23 L346.60,361.77 Q350.20,363.50 354.13,364.26 L372.07,367.74 Q376.00,368.50 379.81,369.71 L385.69,371.59 Q389.50,372.80 391.82,376.06 L398.68,385.74 Q401.00,389.00 404.10,391.53 L408.90,395.47 Q412.00,398.00 413.68,401.63 L416.82,408.37 Q418.50,412.00 420.54,415.44 L429.76,431.06 Q431.80,434.50 429.80,437.97 L422.00,451.53 Q420.00,455.00 418.04,458.49 L412.96,467.51 Q411.00,471.00 411.89,474.90 L413.50,482.00" fill="none" stroke="#fff" stroke-width="3.20" stroke-linecap="butt" stroke-linejoin="round"/>
<rect x="321.7" y="333.7" width="5.4" height="3.6" rx="1" fill="#fff" stroke="#1a1a1a" stroke-width="1" transform="rotate(-12 324.4 335.2)"/>
<rect x="328.1" y="322.2" width="5.4" height="3.6" rx="1" fill="#fff" stroke="#1a1a1a" stroke-width="1" transform="rotate(-12 330.8 323.7)"/>
<rect x="334.2" y="325.9" width="5.4" height="3.6" rx="1" fill="#fff" stroke="#1a1a1a" stroke-width="1" transform="rotate(-12 336.9 327.4)"/>
<rect x="341.1" y="314.2" width="5.4" height="3.6" rx="1" fill="#fff" stroke="#1a1a1a" stroke-width="1" transform="rotate(-12 343.8 315.7)"/>
<rect x="347.5" y="318.4" width="5.4" height="3.6" rx="1" fill="#fff" stroke="#1a1a1a" stroke-width="1" transform="rotate(-12 350.2 319.9)"/>
<rect x="411.0" y="480.9" width="5.4" height="4" rx="1.2" fill="#fff" stroke="#1a1a1a" stroke-width="1" transform="rotate(-35 413.7 482.9)"/>
<rect x="415.8" y="482.5" width="5.4" height="4" rx="1.2" fill="#fff" stroke="#1a1a1a" stroke-width="1" transform="rotate(-35 418.5 484.5)"/>
<rect x="423.8" y="477.7" width="5.4" height="4" rx="1.2" fill="#fff" stroke="#1a1a1a" stroke-width="1" transform="rotate(-35 426.5 479.7)"/>
<rect x="432.3" y="472.3" width="5.4" height="4" rx="1.2" fill="#fff" stroke="#1a1a1a" stroke-width="1" transform="rotate(-35 435.0 474.3)"/>
<path d="M365,341 C366,337 373,337 376,339 C378,342 376,345 371,345 Z" fill="#fff" stroke="#1a1a1a" stroke-width="1"/>
<ellipse cx="371.5" cy="340.5" rx="1.5" ry="1.0" fill="#fff" stroke="#1a1a1a" stroke-width="0.9"/>
<path d="M437.70,458.30 L440.62,461.71 Q443.00,464.50 446.63,465.05 L451.50,465.80" fill="none" stroke="#1a1a1a" stroke-width="4.60" stroke-linecap="butt" stroke-linejoin="round"/>
<path d="M437.70,458.30 L440.62,461.71 Q443.00,464.50 446.63,465.05 L451.50,465.80" fill="none" stroke="#fff" stroke-width="2.60" stroke-linecap="butt" stroke-linejoin="round"/>
<ellipse cx="452" cy="466" rx="1.5" ry="1.8" fill="#fff" stroke="#1a1a1a" stroke-width="1"/>
<g transform="translate(462.30,411.70) scale(0.920,1)"><text x="2.78 11.61 20.44 29.27 38.09" y="0" text-anchor="middle" font-family="Liberation Sans" font-weight="normal" font-size="11.60" fill="#000" stroke="#000" stroke-width="0.42" >31064</text></g>
<polyline points="436.3,406.4 461.3,406.4" fill="none" stroke="#1a1a1a" stroke-width="1.00" stroke-linejoin="miter" />
<g transform="translate(462.30,435.70) scale(0.920,1)"><text x="2.34 10.65 18.97" y="0" text-anchor="middle" font-family="Liberation Sans" font-weight="normal" font-size="11.60" fill="#000" stroke="#000" stroke-width="0.42" >120</text></g>
<polyline points="471.8,438.5 471.8,459.0" fill="none" stroke="#1a1a1a" stroke-width="1.00" stroke-linejoin="miter" />
<g transform="translate(475.5,466.5) rotate(117.0)" stroke="#1a1a1a" stroke-width="1.1" fill="#fff">
<rect x="-2.00" y="5.20" width="4.00" height="5.30" rx="0.8"/>
<path d="M-0.9,7 V9.5 M0.9,7 V9.5" fill="none" stroke-width="0.7"/>
<rect x="-3.00" y="0" width="6.00" height="5.6" rx="1.2" stroke-width="1.3"/>
<path d="M-2.50,1.6 H2.50 M-1,2.8 V4.6 M1,2.8 V4.6" fill="none" stroke-width="0.8"/>
</g>
<polyline points="447.3,448.7 464.3,458.3" fill="none" stroke="#1a1a1a" stroke-width="1.00" stroke-linejoin="miter" />
<circle cx="482.2" cy="481.3" r="7.6" fill="#fff" stroke="#1a1a1a" stroke-width="1"/>
<text x="482.2" y="485.1" text-anchor="middle" font-family="Liberation Sans" font-weight="bold" font-size="10.5" fill="#000" stroke="#000" stroke-width="0.25" transform="translate(482.2,0) scale(0.9,1) translate(-482.2,0)">A</text>
<polyline points="452.5,466.5 474.8,477.0" fill="none" stroke="#1a1a1a" stroke-width="1.00" stroke-linejoin="miter" />
<g stroke="#1a1a1a" stroke-width="1" fill="#fff">
<path d="M236,484 L238,490 L246,491 L248,480 Z"/>
<path d="M239,483 L240,490 M243,482 L244,491" fill="none" stroke-width="0.8"/>
<ellipse cx="250.5" cy="484.5" rx="7.8" ry="7.2"/>
<ellipse cx="250" cy="483.5" rx="4" ry="3.8"/>
</g>
<path d="M118.3,465.7 C114,455 114,440 123.7,429.7 L158.3,399 C166,393 174,390.5 184,390.5 C200,391 215,396 225,397.7 C237,399.5 245,399 252,394 C258,389 262,378 266,370 C268,367 272,366.5 276,367 C284,368 289,372 292,379 C297,392 299,410 298.3,424.3 C297.5,440 295,448 291.7,451 C285,459 278,464 270,468 C262,474 255,479 249,482 C238,486 228,488 217,488.3 C205,488.5 195,487 185,485.7 C172,483 160,481 153,479 C138,475 125,471 118.3,465.7 Z" fill="#fff" stroke="#1a1a1a" stroke-width="1.00" stroke-linejoin="round" />
<polyline points="158.3,399.0 206.3,448.3" fill="none" stroke="#1a1a1a" stroke-width="1.00" stroke-linejoin="miter" />
<polyline points="262.3,377.7 282.3,411.0" fill="none" stroke="#1a1a1a" stroke-width="1.00" stroke-linejoin="miter" />
<path d="M276,367 C283,366 292,372 294.3,379" fill="none" stroke="#1a1a1a" stroke-width="0.90" stroke-linejoin="round" />
<path d="M151.5,407 L151.5,452 M151.5,456 L151.5,504" stroke="#1a1a1a" stroke-width="0.9" stroke-dasharray="200,0" fill="none"/>
<path d="M151.5,462 L151.5,504" stroke="#fff" stroke-width="1.5" stroke-dasharray="0,6,2,0" fill="none"/>
<path d="M159.7,401.7 C163,410 165.5,418 165.5,427 L165.5,548" stroke="#1a1a1a" stroke-width="0.9" stroke-dasharray="6,2,1,2" fill="none"/>
<path d="M165.5,448 L165.5,460" stroke="#1a1a1a" stroke-width="0.9" fill="none"/>
<path d="M149.2,450.5 L149.2,453.3 Q149.2,455.1 151.5,455.1 Q153.8,455.1 153.8,453.3 L153.8,450.5" stroke="#1a1a1a" stroke-width="1.3" fill="#fff"/>
<path d="M149.6,448.0 v1 M153.4,448.0 v1" stroke="#1a1a1a" stroke-width="0.8" fill="none"/>
<path d="M163.3,458.5 L163.3,461.3 Q163.3,463.1 165.6,463.1 Q167.9,463.1 167.9,461.3 L167.9,458.5" stroke="#1a1a1a" stroke-width="1.3" fill="#fff"/>
<path d="M163.7,456.0 v1 M167.5,456.0 v1" stroke="#1a1a1a" stroke-width="0.8" fill="none"/>
<g transform="translate(319.30,422.30) scale(1.100,1)"><text x="3.18 9.98 16.78 23.58 30.38 37.18 43.98 50.77 57.57 64.37 71.17 77.97 84.77" y="0" text-anchor="middle" font-family="Liberation Sans" font-weight="normal" font-size="11.40" fill="#000" stroke="#000" stroke-width="0.42" >Ref.Fuel Tank</text></g>
<polyline points="298.3,417.7 318.0,417.7" fill="none" stroke="#1a1a1a" stroke-width="1.00" stroke-linejoin="miter" />
<g transform="translate(81.30,493.30) scale(0.920,1)"><text x="2.68 10.83 18.98 27.13 35.29 43.44" y="0" text-anchor="middle" font-family="Liberation Sans" font-weight="normal" font-size="11.60" fill="#000" stroke="#000" stroke-width="0.42" >92037A</text></g>
<polyline points="125.3,488.5 147.7,488.5" fill="none" stroke="#1a1a1a" stroke-width="1.00" stroke-linejoin="miter" />
<g transform="translate(151.5,489.3) rotate(0.0) scale(1.00,1.00)" fill="#fff" stroke="#1a1a1a" stroke-width="1.15">
<ellipse cx="0" cy="0" rx="3.4" ry="2.4" transform="rotate(-12)"/>
<ellipse cx="7.3" cy="-1.3" rx="1.9" ry="1.3" transform="rotate(35 7.3 -1.3)"/>
<ellipse cx="3.6" cy="3.8" rx="1.7" ry="1.2" transform="rotate(50 3.6 3.8)"/>
<path d="M2.2,2.6 L6.4,-2.6" fill="none"/>
</g>
<g transform="translate(196.80,503.20) scale(0.920,1)"><text x="2.68 10.88 19.07 27.27 35.46 43.65" y="0" text-anchor="middle" font-family="Liberation Sans" font-weight="normal" font-size="11.60" fill="#000" stroke="#000" stroke-width="0.42" >92037A</text></g>
<polyline points="173.0,497.7 196.0,497.7" fill="none" stroke="#1a1a1a" stroke-width="1.00" stroke-linejoin="miter" />
<g transform="translate(166.5,497.2) rotate(0.0) scale(1.00,1.00)" fill="#fff" stroke="#1a1a1a" stroke-width="1.15">
<ellipse cx="0" cy="0" rx="3.4" ry="2.4" transform="rotate(-12)"/>
<ellipse cx="7.3" cy="-1.3" rx="1.9" ry="1.3" transform="rotate(35 7.3 -1.3)"/>
<ellipse cx="3.6" cy="3.8" rx="1.7" ry="1.2" transform="rotate(50 3.6 3.8)"/>
<path d="M2.2,2.6 L6.4,-2.6" fill="none"/>
</g>
<g transform="translate(100.00,512.00) scale(1.100,1)"><text x="1.04 7.75 14.46 21.17 27.88 34.59" y="0" text-anchor="middle" font-family="Liberation Sans" font-weight="normal" font-size="10.00" fill="#000" stroke="#000" stroke-width="0.42" >(Blue)</text></g>
<g transform="translate(69.30,530.30) scale(0.920,1)"><text x="1.21 9.48 17.76 26.03 34.30 42.57 50.84 59.11" y="0" text-anchor="middle" font-family="Liberation Sans" font-weight="normal" font-size="11.60" fill="#000" stroke="#000" stroke-width="0.42" >(92192B)</text></g>
<polyline points="125.3,525.9 148.8,525.9" fill="none" stroke="#1a1a1a" stroke-width="1.00" stroke-linejoin="miter" />
<rect x="-12.15" y="-2.65" width="24.30" height="5.30" rx="2" fill="#fff" stroke="#1a1a1a" stroke-width="1" transform="translate(152.00,521.00) rotate(90.00)"/>
<ellipse cx="152" cy="511" rx="1.5" ry="1.0" fill="#fff" stroke="#1a1a1a" stroke-width="0.9"/>
<polyline points="152.0,540.0 152.0,554.7" fill="none" stroke="#1a1a1a" stroke-width="1.00" stroke-linejoin="miter" />
<circle cx="151.5" cy="562.7" r="7.6" fill="#fff" stroke="#1a1a1a" stroke-width="1"/>
<text x="151.5" y="566.5" text-anchor="middle" font-family="Liberation Sans" font-weight="bold" font-size="10.5" fill="#000" stroke="#000" stroke-width="0.25" transform="translate(151.5,0) scale(0.9,1) translate(-151.5,0)">D</text>
<g transform="translate(173.30,519.00) scale(1.100,1)"><text x="1.04 7.68 14.32 20.95 27.59" y="0" text-anchor="middle" font-family="Liberation Sans" font-weight="normal" font-size="10.00" fill="#000" stroke="#000" stroke-width="0.42" >(Red)</text></g>
<g transform="translate(198.00,533.30) scale(0.920,1)"><text x="1.21 9.17 17.13 25.10 33.06 41.02 48.98 56.94" y="0" text-anchor="middle" font-family="Liberation Sans" font-weight="normal" font-size="11.60" fill="#000" stroke="#000" stroke-width="0.42" >(92192E)</text></g>
<polyline points="169.3,528.8 196.0,528.8" fill="none" stroke="#1a1a1a" stroke-width="1.00" stroke-linejoin="miter" />
<rect x="-11.55" y="-2.65" width="23.10" height="5.30" rx="2" fill="#fff" stroke="#1a1a1a" stroke-width="1" transform="translate(165.20,528.90) rotate(90.00)"/>
<ellipse cx="165.2" cy="519.5" rx="1.5" ry="1.0" fill="#fff" stroke="#1a1a1a" stroke-width="0.9"/>
<polyline points="165.9,546.7 165.9,571.0" fill="none" stroke="#1a1a1a" stroke-width="1.00" stroke-linejoin="miter" />
<circle cx="165.9" cy="579.2" r="7.6" fill="#fff" stroke="#1a1a1a" stroke-width="1"/>
<text x="165.9" y="583.0" text-anchor="middle" font-family="Liberation Sans" font-weight="bold" font-size="10.5" fill="#000" stroke="#000" stroke-width="0.25" transform="translate(165.9,0) scale(0.9,1) translate(-165.9,0)">C</text>
<g transform="translate(291.30,509.90) scale(0.920,1)"><text x="2.68 11.05 19.42 27.79 36.16" y="0" text-anchor="middle" font-family="Liberation Sans" font-weight="normal" font-size="11.60" fill="#000" stroke="#000" stroke-width="0.42" >92037</text></g>
<polyline points="309.9,513.0 309.9,535.5" fill="none" stroke="#1a1a1a" stroke-width="1.00" stroke-linejoin="miter" />
<ellipse cx="310.6" cy="540.8" rx="3.3" ry="5.6" fill="#fff" stroke="#1a1a1a" stroke-width="1.1" transform="rotate(-28 310.6 540.8)"/>
<path d="M308.5,537 C310,536 312,537 313,539" fill="none" stroke="#1a1a1a" stroke-width="0.8"/>
<polyline points="317.3,537.6 413.6,481.6" fill="none" stroke="#1a1a1a" stroke-width="1.00" stroke-linejoin="miter" />
<g transform="translate(238.40,550.00) scale(1.100,1)"><text x="1.04 7.71 14.38 21.05 27.71 34.38 41.05" y="0" text-anchor="middle" font-family="Liberation Sans" font-weight="normal" font-size="10.00" fill="#000" stroke="#000" stroke-width="0.42" >(Green)</text></g>
<g transform="translate(217.00,563.80) scale(0.920,1)"><text x="2.68 10.85 19.03 27.20 35.37 43.54" y="0" text-anchor="middle" font-family="Liberation Sans" font-weight="normal" font-size="11.60" fill="#000" stroke="#000" stroke-width="0.42" >92192D</text></g>
<polyline points="260.8,560.0 282.1,560.0" fill="none" stroke="#1a1a1a" stroke-width="1.00" stroke-linejoin="miter" />
<path d="M303.5,547 C297,549.5 292,552 289,556 C286,560 285.3,565 285.3,570 L285.3,576.5" fill="none" stroke="#1a1a1a" stroke-width="7.90" stroke-linecap="round" stroke-linejoin="round"/>
<path d="M303.5,547 C297,549.5 292,552 289,556 C286,560 285.3,565 285.3,570 L285.3,576.5" fill="none" stroke="#fff" stroke-width="5.90" stroke-linecap="round" stroke-linejoin="round"/>
<g transform="translate(218.80,592.40) scale(0.920,1)"><text x="2.68 11.02 19.37 27.71 36.05" y="0" text-anchor="middle" font-family="Liberation Sans" font-weight="normal" font-size="11.60" fill="#000" stroke="#000" stroke-width="0.42" >92037</text></g>
<polyline points="255.9,588.4 278.9,588.4" fill="none" stroke="#1a1a1a" stroke-width="1.00" stroke-linejoin="miter" />
<ellipse cx="284.3" cy="586.7" rx="5" ry="2.9" fill="#fff" stroke="#1a1a1a" stroke-width="1" transform="rotate(-10 284.3 586.7)"/>
<ellipse cx="282.5" cy="589" rx="2.4" ry="1.5" fill="#fff" stroke="#1a1a1a" stroke-width="0.9"/>
<path d="M285.5,595.5 L285.5,611 M291.5,603 L291.5,611" stroke="#1a1a1a" stroke-width="0.9" stroke-dasharray="5,2.5" fill="none"/>
<g transform="translate(217.00,620.80) scale(0.920,1)"><text x="2.68 10.90 19.11 27.33 35.55 43.76" y="0" text-anchor="middle" font-family="Liberation Sans" font-weight="normal" font-size="11.60" fill="#000" stroke="#000" stroke-width="0.42" >92037A</text></g>
<polyline points="261.4,616.5 283.2,616.5" fill="none" stroke="#1a1a1a" stroke-width="1.00" stroke-linejoin="miter" />
<g transform="translate(287.5,616.3) rotate(0.0) scale(0.95,0.95)" fill="#fff" stroke="#1a1a1a" stroke-width="1.21">
<ellipse cx="0" cy="0" rx="3.4" ry="2.4" transform="rotate(-12)"/>
<ellipse cx="7.3" cy="-1.3" rx="1.9" ry="1.3" transform="rotate(35 7.3 -1.3)"/>
<ellipse cx="3.6" cy="3.8" rx="1.7" ry="1.2" transform="rotate(50 3.6 3.8)"/>
<path d="M2.2,2.6 L6.4,-2.6" fill="none"/>
</g>
<polyline points="285.3,623.0 285.3,687.0" fill="none" stroke="#1a1a1a" stroke-width="1.00" stroke-linejoin="miter" />
<polyline points="291.7,623.0 291.7,689.0" fill="none" stroke="#1a1a1a" stroke-width="1.00" stroke-linejoin="miter" />
<g transform="translate(298.10,564.90) scale(0.920,1)"><text x="2.68 10.92 19.15 27.39 35.63 43.86" y="0" text-anchor="middle" font-family="Liberation Sans" font-weight="normal" font-size="11.60" fill="#000" stroke="#000" stroke-width="0.42" >92192C</text></g>
<polyline points="320.5,567.5 320.5,589.9" fill="none" stroke="#1a1a1a" stroke-width="1.00" stroke-linejoin="miter" />
<g transform="translate(324.40,580.00) scale(1.100,1)"><text x="1.04 7.10 13.15 19.21 25.26 31.32" y="0" text-anchor="middle" font-family="Liberation Sans" font-weight="normal" font-size="10.00" fill="#000" stroke="#000" stroke-width="0.42" >(Blue)</text></g>
<path d="M292.2,601 L293,594 C294,589 297,587 301,587.5 L327,594.5 C331,596 334,599 334.4,603 L334.4,611.5" fill="none" stroke="#1a1a1a" stroke-width="7.70" stroke-linecap="round" stroke-linejoin="round"/>
<path d="M292.2,601 L293,594 C294,589 297,587 301,587.5 L327,594.5 C331,596 334,599 334.4,603 L334.4,611.5" fill="none" stroke="#fff" stroke-width="5.70" stroke-linecap="round" stroke-linejoin="round"/>
<g transform="translate(361.00,631.70) scale(0.920,1)"><text x="2.68 10.94 19.20 27.46 35.72 43.98" y="0" text-anchor="middle" font-family="Liberation Sans" font-weight="normal" font-size="11.60" fill="#000" stroke="#000" stroke-width="0.42" >92037A</text></g>
<polyline points="338.0,627.5 360.0,627.5" fill="none" stroke="#1a1a1a" stroke-width="1.00" stroke-linejoin="miter" />
<g transform="translate(332.3,626.8) rotate(0.0) scale(0.95,0.95)" fill="#fff" stroke="#1a1a1a" stroke-width="1.21">
<ellipse cx="0" cy="0" rx="3.4" ry="2.4" transform="rotate(-12)"/>
<ellipse cx="7.3" cy="-1.3" rx="1.9" ry="1.3" transform="rotate(35 7.3 -1.3)"/>
<ellipse cx="3.6" cy="3.8" rx="1.7" ry="1.2" transform="rotate(50 3.6 3.8)"/>
<path d="M2.2,2.6 L6.4,-2.6" fill="none"/>
</g>
<polyline points="334.3,631.0 335.3,643.9 378.0,633.2" fill="none" stroke="#1a1a1a" stroke-width="1.00" stroke-linejoin="miter" />
<g transform="translate(388.60,532.80) scale(0.920,1)"><text x="2.68 10.85 19.03 27.20 35.37 43.55" y="0" text-anchor="middle" font-family="Liberation Sans" font-weight="normal" font-size="11.60" fill="#000" stroke="#000" stroke-width="0.42" >92037A</text></g>
<polyline points="366.7,528.1 388.0,528.1" fill="none" stroke="#1a1a1a" stroke-width="1.00" stroke-linejoin="miter" />
<g transform="translate(361.5,529.0) rotate(0.0) scale(1.00,1.00)" fill="#fff" stroke="#1a1a1a" stroke-width="1.15">
<ellipse cx="0" cy="0" rx="3.4" ry="2.4" transform="rotate(-12)"/>
<ellipse cx="7.3" cy="-1.3" rx="1.9" ry="1.3" transform="rotate(35 7.3 -1.3)"/>
<ellipse cx="3.6" cy="3.8" rx="1.7" ry="1.2" transform="rotate(50 3.6 3.8)"/>
<path d="M2.2,2.6 L6.4,-2.6" fill="none"/>
</g>
<polyline points="422.1,488.0 359.2,524.3" fill="none" stroke="#1a1a1a" stroke-width="1.00" stroke-linejoin="miter" />
<path d="M372,538.5 C373.5,541 374.5,543 375.5,545 L401,604 C403,609 407,611 409.5,608.5" fill="none" stroke="#1a1a1a" stroke-width="7.90" stroke-linecap="round" stroke-linejoin="round"/>
<path d="M372,538.5 C373.5,541 374.5,543 375.5,545 L401,604 C403,609 407,611 409.5,608.5" fill="none" stroke="#fff" stroke-width="5.90" stroke-linecap="round" stroke-linejoin="round"/>
<polyline points="409.5,607.0 413.0,599.0" fill="none" stroke="#1a1a1a" stroke-width="1.00" stroke-linejoin="miter" />
<g transform="translate(385.90,549.50) scale(1.100,1)"><text x="1.04 7.55 14.05 20.55 27.05" y="0" text-anchor="middle" font-family="Liberation Sans" font-weight="normal" font-size="10.00" fill="#000" stroke="#000" stroke-width="0.42" >(Red)</text></g>
<g transform="translate(407.80,562.00) scale(0.920,1)"><text x="2.68 10.81 18.94 27.07 35.20 43.33" y="0" text-anchor="middle" font-family="Liberation Sans" font-weight="normal" font-size="11.60" fill="#000" stroke="#000" stroke-width="0.42" >92192F</text></g>
<polyline points="385.9,558.0 407.2,558.0" fill="none" stroke="#1a1a1a" stroke-width="1.00" stroke-linejoin="miter" />
<circle cx="420.0" cy="574.4" r="7.6" fill="#fff" stroke="#1a1a1a" stroke-width="1"/>
<text x="420.0" y="578.2" text-anchor="middle" font-family="Liberation Sans" font-weight="bold" font-size="10.5" fill="#000" stroke="#000" stroke-width="0.25" transform="translate(420.0,0) scale(0.9,1) translate(-420.0,0)">B</text>
<polyline points="416.8,582.5 414.7,590.0" fill="none" stroke="#1a1a1a" stroke-width="1.00" stroke-linejoin="miter" />
<g transform="translate(415.7,594.7) rotate(0.0) scale(1.00,1.00)" fill="#fff" stroke="#1a1a1a" stroke-width="1.15">
<ellipse cx="0" cy="0" rx="3.4" ry="2.4" transform="rotate(-12)"/>
<ellipse cx="7.3" cy="-1.3" rx="1.9" ry="1.3" transform="rotate(35 7.3 -1.3)"/>
<ellipse cx="3.6" cy="3.8" rx="1.7" ry="1.2" transform="rotate(50 3.6 3.8)"/>
<path d="M2.2,2.6 L6.4,-2.6" fill="none"/>
</g>
<g transform="translate(485.70,451.70) scale(1.100,1)"><text x="3.18 9.98 16.77 23.57 30.36 37.16 43.95 50.75 57.54 64.34 71.13 77.93 84.72 91.52" y="0" text-anchor="middle" font-family="Liberation Sans" font-weight="normal" font-size="11.40" fill="#000" stroke="#000" stroke-width="0.42" >Ref.Water Pipe</text></g>
<polyline points="538.1,455.0 538.1,476.0" fill="none" stroke="#1a1a1a" stroke-width="1.00" stroke-linejoin="miter" />
<polyline points="526.4,487.7 526.4,476.0 549.9,476.0 549.9,499.5" fill="none" stroke="#1a1a1a" stroke-width="1.00" stroke-linejoin="miter" />
<rect x="-19.55" y="-3.25" width="39.10" height="6.50" rx="2" fill="#fff" stroke="#1a1a1a" stroke-width="1" transform="translate(547.75,503.75) rotate(32.47)"/>
<ellipse cx="533.5" cy="494.6" rx="1.3" ry="2" fill="#fff" stroke="#1a1a1a" stroke-width="0.9" transform="rotate(-55 533.5 494.6)"/>
<polyline points="437.7,476.5 475.2,498.4 509.3,479.2 522.1,487.7" fill="none" stroke="#1a1a1a" stroke-width="1.00" stroke-linejoin="miter" />
<g transform="translate(522.5,492.0) rotate(-60.0) scale(0.90,0.90)" fill="#fff" stroke="#1a1a1a" stroke-width="1.28">
<ellipse cx="0" cy="0" rx="3.4" ry="2.4" transform="rotate(-12)"/>
<ellipse cx="7.3" cy="-1.3" rx="1.9" ry="1.3" transform="rotate(35 7.3 -1.3)"/>
<ellipse cx="3.6" cy="3.8" rx="1.7" ry="1.2" transform="rotate(50 3.6 3.8)"/>
<path d="M2.2,2.6 L6.4,-2.6" fill="none"/>
</g>
<polyline points="429.1,482.9 458.1,510.1" fill="none" stroke="#1a1a1a" stroke-width="1.00" stroke-linejoin="miter" />
<g transform="translate(461.3,513.5) rotate(0.0) scale(1.00,1.00)" fill="#fff" stroke="#1a1a1a" stroke-width="1.15">
<ellipse cx="0" cy="0" rx="3.4" ry="2.4" transform="rotate(-12)"/>
<ellipse cx="7.3" cy="-1.3" rx="1.9" ry="1.3" transform="rotate(35 7.3 -1.3)"/>
<ellipse cx="3.6" cy="3.8" rx="1.7" ry="1.2" transform="rotate(50 3.6 3.8)"/>
<path d="M2.2,2.6 L6.4,-2.6" fill="none"/>
</g>
<g transform="translate(486.90,516.50) scale(0.920,1)"><text x="2.68 10.90 19.11 27.33 35.55 43.76" y="0" text-anchor="middle" font-family="Liberation Sans" font-weight="normal" font-size="11.60" fill="#000" stroke="#000" stroke-width="0.42" >92037A</text></g>
<polyline points="465.6,511.8 486.5,511.8" fill="none" stroke="#1a1a1a" stroke-width="1.00" stroke-linejoin="miter" />
<path d="M470.5,521.5 L487,537 C491,542 493.5,548 493.5,554 L493.5,571" fill="none" stroke="#1a1a1a" stroke-width="7.70" stroke-linecap="round" stroke-linejoin="round"/>
<path d="M470.5,521.5 L487,537 C491,542 493.5,548 493.5,554 L493.5,571" fill="none" stroke="#fff" stroke-width="5.70" stroke-linecap="round" stroke-linejoin="round"/>
<g transform="translate(500.40,539.00) scale(1.100,1)"><text x="1.04 7.75 14.46 21.17 27.88 34.59" y="0" text-anchor="middle" font-family="Liberation Sans" font-weight="normal" font-size="10.00" fill="#000" stroke="#000" stroke-width="0.42" >(Blue)</text></g>
<g transform="translate(518.90,554.30) scale(0.920,1)"><text x="2.68 10.90 19.11 27.33 35.55 43.76" y="0" text-anchor="middle" font-family="Liberation Sans" font-weight="normal" font-size="11.60" fill="#000" stroke="#000" stroke-width="0.42" >92192A</text></g>
<polyline points="496.5,549.6 517.9,549.6" fill="none" stroke="#1a1a1a" stroke-width="1.00" stroke-linejoin="miter" />
<g transform="translate(491.2,583.2) rotate(0.0) scale(1.00,1.00)" fill="#fff" stroke="#1a1a1a" stroke-width="1.15">
<ellipse cx="0" cy="0" rx="3.4" ry="2.4" transform="rotate(-12)"/>
<ellipse cx="7.3" cy="-1.3" rx="1.9" ry="1.3" transform="rotate(35 7.3 -1.3)"/>
<ellipse cx="3.6" cy="3.8" rx="1.7" ry="1.2" transform="rotate(50 3.6 3.8)"/>
<path d="M2.2,2.6 L6.4,-2.6" fill="none"/>
</g>
<g transform="translate(520.60,588.60) scale(0.920,1)"><text x="2.68 10.75 18.81 26.87 34.94 43.00" y="0" text-anchor="middle" font-family="Liberation Sans" font-weight="normal" font-size="11.60" fill="#000" stroke="#000" stroke-width="0.42" >92037A</text></g>
<polyline points="496.5,583.7 518.9,583.7" fill="none" stroke="#1a1a1a" stroke-width="1.00" stroke-linejoin="miter" />
<polyline points="494.4,592.3 494.4,604.0" fill="none" stroke="#1a1a1a" stroke-width="1.00" stroke-linejoin="miter" />
<g transform="translate(444.10,600.70) scale(0.920,1)"><text x="2.68 10.90 19.11 27.33 35.55 43.76" y="0" text-anchor="middle" font-family="Liberation Sans" font-weight="normal" font-size="11.60" fill="#000" stroke="#000" stroke-width="0.42" >92037A</text></g>
<polyline points="418.5,596.4 444.1,596.4" fill="none" stroke="#1a1a1a" stroke-width="1.00" stroke-linejoin="miter" />
<polyline points="462.4,611.9 491.2,605.5" fill="none" stroke="#1a1a1a" stroke-width="1.00" stroke-linejoin="miter" />
<g transform="translate(426.00,623.70) scale(0.920,1)"><text x="2.68 11.02 19.37 27.71 36.05" y="0" text-anchor="middle" font-family="Liberation Sans" font-weight="normal" font-size="11.60" fill="#000" stroke="#000" stroke-width="0.42" >92072</text></g>
<polyline points="444.2,627.3 444.2,649.0" fill="none" stroke="#1a1a1a" stroke-width="1.00" stroke-linejoin="miter" />
<g stroke="#1a1a1a" stroke-width="1" fill="none" stroke-linejoin="round">
<path d="M436.1,652.1 L461,637.8 M436.8,654.3 L461.8,640 M438.3,661.7 L464,647.7" />
<rect x="429.6" y="652.8" width="8.6" height="15.4" rx="2.6" fill="#fff" stroke-width="1.7"/>
<rect x="432.3" y="655.2" width="4.6" height="9.4" rx="1.5" stroke-width="0.9"/>
<rect x="463.3" y="633.1" width="5.8" height="16" rx="2.5" fill="#fff" stroke-width="1.6"/>
<rect x="464.8" y="635.5" width="2.8" height="10.5" rx="1.2" stroke-width="0.8"/>
</g>
<polyline points="434.7,662.4 456.9,674.3 456.9,718.0 499.6,743.6" fill="none" stroke="#1a1a1a" stroke-width="1.00" stroke-linejoin="miter" />
<g stroke="#1a1a1a" stroke-width="1" fill="#fff">
<path d="M494.9,600 L494.9,622 M497.9,603 L497.9,622" fill="none" stroke-width="0.9"/>
<path d="M482.8,633 L482.8,669 C482.8,676 507.2,676 507.2,669 L507.2,633 Z"/>
<ellipse cx="495" cy="633.2" rx="12.2" ry="6.6"/>
<path d="M480.5,647 L480.5,651 C480.5,660 509.9,660 509.9,651 L509.9,647 C509.9,641 480.5,641 480.5,647 Z"/>
<path d="M480.5,651 C480.5,656.5 509.9,656.5 509.9,651" fill="none" stroke-width="0.9"/>
<path d="M482,662 C482,670 508,670 508,662 M482.8,666 C482.8,673 507.2,673 507.2,666" fill="none" stroke-width="1.1"/>
<rect x="492.4" y="668" width="4.8" height="10" rx="2"/>
<ellipse cx="493.5" cy="667" rx="2.2" ry="2.8" stroke-width="1.2"/>
<rect x="491.6" y="627.5" width="5.2" height="9.5" rx="1.8"/>
<path d="M493.3,620.5 L498.9,620.5 L498.9,627.5 L491.6,630 Z" stroke-width="1.1"/>
</g>
<g transform="translate(532.70,652.90) scale(0.920,1)"><text x="2.34 10.50 18.66 26.82 34.98" y="0" text-anchor="middle" font-family="Liberation Sans" font-weight="normal" font-size="11.60" fill="#000" stroke="#000" stroke-width="0.42" >16165</text></g>
<polyline points="509.2,648.7 531.6,648.7" fill="none" stroke="#1a1a1a" stroke-width="1.00" stroke-linejoin="miter" />
<circle cx="481.0" cy="705.2" r="7.6" fill="#fff" stroke="#1a1a1a" stroke-width="1"/>
<text x="481.0" y="709.0" text-anchor="middle" font-family="Liberation Sans" font-weight="bold" font-size="10.5" fill="#000" stroke="#000" stroke-width="0.25" transform="translate(481.0,0) scale(0.9,1) translate(-481.0,0)">B</text>
<polyline points="483.6,697.0 492.1,671.0" fill="none" stroke="#1a1a1a" stroke-width="1.00" stroke-linejoin="miter" />
<polyline points="495.3,680.7 495.3,735.0 528.4,715.9 528.4,755.3" fill="none" stroke="#1a1a1a" stroke-width="1.00" stroke-linejoin="miter" />
<circle cx="514.5" cy="684.9" r="7.6" fill="#fff" stroke="#1a1a1a" stroke-width="1"/>
<text x="514.5" y="688.7" text-anchor="middle" font-family="Liberation Sans" font-weight="bold" font-size="10.5" fill="#000" stroke="#000" stroke-width="0.25" transform="translate(514.5,0) scale(0.9,1) translate(-514.5,0)">A</text>
<polyline points="519.5,690.5 526.5,697.0" fill="none" stroke="#1a1a1a" stroke-width="1.00" stroke-linejoin="miter" />
<g transform="translate(530.0,701.5) rotate(-20.0) scale(0.90,0.90)" fill="#fff" stroke="#1a1a1a" stroke-width="1.28">
<ellipse cx="0" cy="0" rx="3.4" ry="2.4" transform="rotate(-12)"/>
<ellipse cx="7.3" cy="-1.3" rx="1.9" ry="1.3" transform="rotate(35 7.3 -1.3)"/>
<ellipse cx="3.6" cy="3.8" rx="1.7" ry="1.2" transform="rotate(50 3.6 3.8)"/>
<path d="M2.2,2.6 L6.4,-2.6" fill="none"/>
</g>
<g transform="translate(556.70,703.30) scale(0.920,1)"><text x="2.68 10.83 18.98 27.13 35.28 43.43" y="0" text-anchor="middle" font-family="Liberation Sans" font-weight="normal" font-size="11.60" fill="#000" stroke="#000" stroke-width="0.42" >92037C</text></g>
<polyline points="533.7,698.8 556.1,698.8" fill="none" stroke="#1a1a1a" stroke-width="1.00" stroke-linejoin="miter" />
<path d="M539.5,708 C547,714 552,720 555,728 C557.5,735 558,742 558,750 L558,759.3 C558,770 551,776.7 543.3,776.7 L535,776.7 C531,776.7 529.5,774 529.5,770" fill="none" stroke="#1a1a1a" stroke-width="7.50" stroke-linecap="round" stroke-linejoin="round"/>
<path d="M539.5,708 C547,714 552,720 555,728 C557.5,735 558,742 558,750 L558,759.3 C558,770 551,776.7 543.3,776.7 L535,776.7 C531,776.7 529.5,774 529.5,770" fill="none" stroke="#fff" stroke-width="5.50" stroke-linecap="round" stroke-linejoin="round"/>
<ellipse cx="529.5" cy="769.5" rx="2.2" ry="1.5" fill="#fff" stroke="#1a1a1a" stroke-width="0.9"/>
<g transform="translate(562.50,731.50) scale(1.100,1)"><text x="1.04 7.89 14.74 21.59 28.44 35.29 42.14" y="0" text-anchor="middle" font-family="Liberation Sans" font-weight="normal" font-size="10.00" fill="#000" stroke="#000" stroke-width="0.42" >(White)</text></g>
<g transform="translate(584.70,747.30) scale(0.920,1)"><text x="2.68 10.97 19.26 27.55 35.84" y="0" text-anchor="middle" font-family="Liberation Sans" font-weight="normal" font-size="11.60" fill="#000" stroke="#000" stroke-width="0.42" >92192</text></g>
<polyline points="562.0,742.8 583.3,742.8" fill="none" stroke="#1a1a1a" stroke-width="1.00" stroke-linejoin="miter" />
<g transform="translate(454.30,761.70) scale(0.920,1)"><text x="2.68 11.00 19.33 27.65 35.97 44.30" y="0" text-anchor="middle" font-family="Liberation Sans" font-weight="normal" font-size="11.60" fill="#000" stroke="#000" stroke-width="0.42" >92037C</text></g>
<polyline points="499.3,757.5 522.0,757.5" fill="none" stroke="#1a1a1a" stroke-width="1.00" stroke-linejoin="miter" />
<g transform="translate(527.3,756.5) rotate(0.0) scale(0.90,0.90)" fill="#fff" stroke="#1a1a1a" stroke-width="1.28">
<ellipse cx="0" cy="0" rx="3.4" ry="2.4" transform="rotate(-12)"/>
<ellipse cx="7.3" cy="-1.3" rx="1.9" ry="1.3" transform="rotate(35 7.3 -1.3)"/>
<ellipse cx="3.6" cy="3.8" rx="1.7" ry="1.2" transform="rotate(50 3.6 3.8)"/>
<path d="M2.2,2.6 L6.4,-2.6" fill="none"/>
</g>
<polyline points="490.0,738.0 499.3,743.3" fill="none" stroke="#1a1a1a" stroke-width="1.00" stroke-linejoin="miter" />
<polyline points="562.0,780.7 580.7,791.3" fill="none" stroke="#1a1a1a" stroke-width="1.00" stroke-linejoin="miter" />
<g transform="translate(371.90,800.90) scale(1.100,1)"><text x="3.18 9.98 16.79 23.59 30.39 37.20 44.00 50.80 57.61 64.41 71.21 78.02 84.82 91.62 98.43 105.23 112.03 118.83" y="0" text-anchor="middle" font-family="Liberation Sans" font-weight="normal" font-size="11.40" fill="#000" stroke="#000" stroke-width="0.42" >Ref.Frame Fittings</text></g>
<polyline points="506.0,796.7 528.7,796.7" fill="none" stroke="#1a1a1a" stroke-width="1.00" stroke-linejoin="miter" />
<polyline points="259.6,648.1 386.5,648.1 386.5,746.3 318.3,784.7 259.6,784.7 259.6,648.1" fill="none" stroke="#1a1a1a" stroke-width="1.00" stroke-linejoin="miter" />
<g transform="translate(201.00,721.00) scale(0.920,1)"><text x="2.34 10.90 19.46 28.01 36.57" y="0" text-anchor="middle" font-family="Liberation Sans" font-weight="normal" font-size="11.60" fill="#000" stroke="#000" stroke-width="0.42" >16164</text></g>
<polyline points="238.0,716.4 259.6,716.4" fill="none" stroke="#1a1a1a" stroke-width="1.00" stroke-linejoin="miter" />
<g stroke="#1a1a1a" stroke-width="1" fill="#fff" stroke-linejoin="round">
<path d="M272.4,697.5 L281.6,692 L318.2,703.6 L319.5,754.4 L299.9,767.8 L270.6,749.5 Z"/>
<path d="M272.4,697.5 L299.9,713.4 L318.2,703.6 M273.6,699.5 L299.9,714.9 L317.5,705.6 M299.9,718.9 L299.9,767.8" fill="none"/>
<path d="M270.6,749.5 L270.3,760 C270.3,762 271,763 273,764 L297,779 C299,780 300.5,780 302,779 L318,770 C319.3,769.3 320,768.5 320,767 L320,754.4 L299.9,767.8 Z"/>
<path d="M270.6,752.3 L299.9,770.3 L320,757.4 M299.9,770.3 L299.9,779.5" fill="none" stroke-width="0.9"/>
<rect x="282.7" y="685.2" width="4.2" height="7" rx="1"/>
<ellipse cx="284.8" cy="685.2" rx="2.1" ry="1"/>
<rect x="290.1" y="691.0" width="4.2" height="7" rx="1"/>
<ellipse cx="292.2" cy="691.0" rx="2.1" ry="1"/>
<rect x="304.1" y="698.0" width="4.2" height="7" rx="1"/>
<ellipse cx="306.2" cy="698.0" rx="2.1" ry="1"/>
</g>
<polyline points="285.2,687.0 285.2,683.0" fill="none" stroke="#1a1a1a" stroke-width="1.00" stroke-linejoin="miter" />
<g stroke="#1a1a1a" stroke-width="1" fill="#fff">
<path d="M301.2,657 L301.2,669.5 C301.2,671.5 309.7,671.5 309.7,669.5 L309.7,657 Z"/>
<ellipse cx="305.45" cy="657" rx="4.25" ry="1.6"/>
<path d="M295.5,680 L302,676.5 L304,684 L297,685.5 Z"/>
<path d="M297,682 L302,681 M298,684 L303,683" fill="none" stroke-width="0.8"/>
<path d="M301.6,677.5 L301.6,680.5 C301.6,683 311.4,683 311.4,680.5 L311.4,677.5" stroke-width="1.2"/>
<ellipse cx="306.5" cy="677.5" rx="4.9" ry="2.8" stroke-width="1.2"/>
<ellipse cx="306.5" cy="677.5" rx="3.2" ry="1.7" stroke-width="0.8"/>
<path d="M306,684 L306,696" fill="none" stroke-width="0.9"/>
</g>
<g transform="translate(333.20,667.30) scale(0.920,1)"><text x="2.34 10.66 18.98 27.30 35.62" y="0" text-anchor="middle" font-family="Liberation Sans" font-weight="normal" font-size="11.60" fill="#000" stroke="#000" stroke-width="0.42" >11012</text></g>
<polyline points="310.8,663.1 332.1,663.1" fill="none" stroke="#1a1a1a" stroke-width="1.00" stroke-linejoin="miter" />
<g transform="translate(334.70,684.40) scale(0.920,1)"><text x="2.68 11.04 19.39 27.75 36.10 44.46" y="0" text-anchor="middle" font-family="Liberation Sans" font-weight="normal" font-size="11.60" fill="#000" stroke="#000" stroke-width="0.42" >92037B</text></g>
<polyline points="311.9,680.6 334.3,680.6" fill="none" stroke="#1a1a1a" stroke-width="1.00" stroke-linejoin="miter" />
<polyline points="317.9,804.4 332.0,796.4 437.7,857.1 522.6,808.5" fill="none" stroke="#1a1a1a" stroke-width="1.00" stroke-linejoin="miter" />
<g transform="translate(206.40,841.60) scale(0.920,1)"><text x="2.34 10.66 18.97 27.29 35.60" y="0" text-anchor="middle" font-family="Liberation Sans" font-weight="normal" font-size="11.60" fill="#000" stroke="#000" stroke-width="0.42" >13091</text></g>
<polyline points="242.7,837.3 265.7,837.3" fill="none" stroke="#1a1a1a" stroke-width="1.00" stroke-linejoin="miter" />
<g transform="translate(255,790) scale(0.10667)" stroke="#1a1a1a" stroke-width="9.4" fill="#fff" stroke-linejoin="round">
<path d="M100,160 C100,150 105,145 115,140 L280,45 C295,38 310,38 325,45 L635,200 C645,205 650,212 650,222 L650,600 C650,610 645,615 635,620 L440,725 C425,732 410,732 395,725 L115,565 C105,560 100,555 100,545 Z"/>
<path d="M120,190 L385,335 C400,343 415,345 430,340 L640,240" fill="none" stroke-width="14"/>
<path d="M105,165 L120,190 M640,240 L648,215" fill="none"/>
<path d="M320,80 L320,280 M425,410 L425,700" fill="none"/>
<path d="M130,175 L140,160 L240,110 L240,390 L210,410 L145,450 L120,390 L130,330 L120,250 Z" fill="none" stroke-width="8" stroke-dasharray="35,18"/>
<path d="M500,370 L605,315 L630,370 L630,590 L505,655 Z"/>
<path d="M505,415 L625,365 M520,430 L520,640 M505,640 L625,585" fill="none"/>
<path d="M505,440 L505,640" fill="none" stroke-width="16"/>
</g>
<text x="0" y="0" font-family="Liberation Sans" font-size="14.6" fill="#222" transform="translate(300.5,976.5) scale(0.775,1)" textLength="191.5" lengthAdjust="spacingAndGlyphs">Rendered by LeadVenture, Inc.</text>
<g stroke="#1a1a1a" stroke-width="1" fill="#fff" stroke-linejoin="round">
<path d="M625.4,739.6 C625.5,737 627,736.2 629,736.6 C632,737.5 634,741 635,743.2 L639.8,748 L645.8,746.8 L651.8,752.2 L652.4,762.4 L648.6,765 L646.2,773 L639,789.8 L624.6,801.8 L605.4,811.4 L600,800 L607.8,794.6 L625.8,785 L634.2,765.8 L633,758.6 L630.8,754 L627.8,744.4 Z"/>
<path d="M630.8,754 L640,750 L651.8,752.2 M648.6,765 L641,769 L637,784 L618,797 L603,805 M641,769 L634.2,765.8" fill="none" stroke-width="0.9"/>
<path d="M636,758 L645,755.5 L647,765 L639,768 Z" stroke-width="1.2"/>
<path d="M638.5,760 L643,759 L644,764 L640,765.5 Z" fill="none" stroke-width="0.9"/>
<ellipse cx="629.8" cy="742.6" rx="1.4" ry="1.7"/>
<path d="M613,784 C612,779 616,778 616.5,781 L617,790 M614,786 L619,792" fill="none" stroke-width="0.9"/>
<path d="M591.5,790 L600,788.5 L608,794 L608,800 L593,801 L591,796 Z"/>
<path d="M592,793 L606,796 M592.5,796.5 L607,799" fill="none" stroke-width="0.9"/>
<path d="M507.4,822.4 C507.5,820 508.5,819.3 509.8,819.2 L518.6,817.6 C520,817.6 521,818.5 521,820 L521.8,831.2 L542.6,820.8 L556.2,817.6 C560,817.5 564,820 567.4,820 L581.8,809.6 L588.2,804 L593.8,802.4 L601,808 L615.4,816.8 L615.4,832.8 L607.4,839.2 L594.6,843.2 L585,847.2 L569,850.4 L557.8,855.2 C555,855.5 553,854.8 551.4,853.6 L530.6,842.4 L513,844 C510,843 508.5,841.5 508.2,839.2 Z"/>
<ellipse cx="514.6" cy="824.8" rx="2" ry="2"/>
<path d="M510,836 L512,839 M511.5,833 L514,831 L521.8,831.2 M521,836 L513,838 M530.6,842.4 L528,836.5 L541.8,830" fill="none" stroke-width="0.9"/>
<path d="M534.6,835.2 L549.8,826.4 L580.2,837.6 L581.8,841.6 L565.8,848.8 L557.8,851.2 L537,839.2 Z" stroke-width="1.1"/>
<path d="M537.5,836 L549.8,829 L577.5,839 L565,846.3 L557.8,848.5 L539.5,838.5 Z" fill="none" stroke-width="0.8"/>
<path d="M570.6,816.8 L589.8,803.2 L597.8,807.2 L601,818.4 L601,832.8 L586.6,842.4 L570.6,834.4 Z"/>
<path d="M574,819 L583,814 C586,813 588,815 587,818 L586.5,824 L578,828 C575,829 573.5,827 573.5,825 Z"/>
<ellipse cx="590.6" cy="825.6" rx="2.7" ry="3.4"/>
<path d="M576,828.5 L576,836.5 M586.6,842.4 L586.6,848 M601,832.8 L607.4,839.2 M601,818.4 L607,822 L607,839" fill="none" stroke-width="0.9"/>
<path d="M587,806 L591,804 L593,808 L589,810 Z" stroke-width="0.9"/>
<path d="M605,816 L617,808.5 C621,807 626,808 625.5,811.5 C625,814 620,816.5 615,818 L606,819.5 Z"/>
<ellipse cx="617" cy="813" rx="2" ry="1.4"/>
<path d="M529,794.4 L548.2,786.4 C550,785.8 552,786 553,787.2 L554.6,789.6 L555.4,808 L553,811.2 L553,818.4 L542.6,820.8 L541.8,812 L529,811.2 Z"/>
<path d="M533,797 L546,791.5 C549,790.5 550,792.5 549.5,795 L548,799 L537,804 C534,805 532.5,803.5 532.5,801 Z"/>
<ellipse cx="549.8" cy="802.4" rx="2.6" ry="3.6"/>
<path d="M541.8,812 L553,811.2" fill="none" stroke-width="0.9"/>
</g>
</svg></body></html>
